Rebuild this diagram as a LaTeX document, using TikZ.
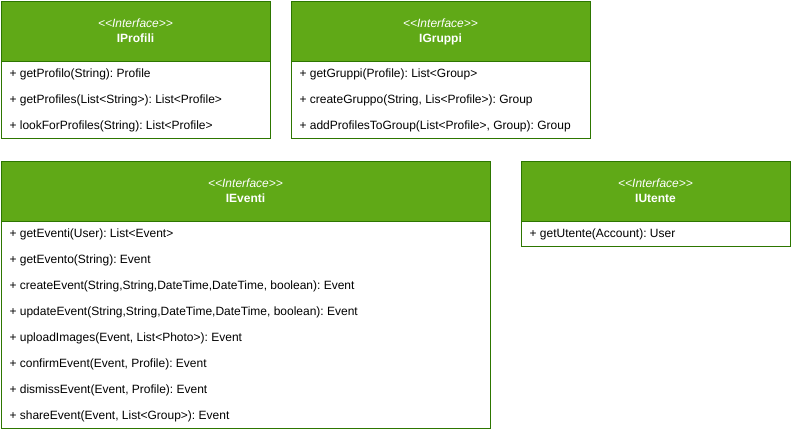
\documentclass[tikz,border=0pt]{standalone}
\usepackage{fontspec}
\setmainfont{Liberation Sans}
\definecolor{hdr}{HTML}{60A917}
\definecolor{edge}{HTML}{2D7600}
\newcommand{\stereo}{\textit{<\kern0pt<Interface>\kern0pt>}}
\frenchspacing
\begin{document}
\begin{tikzpicture}[x=0.75pt,y=-0.75pt,
  hdrbox/.style={fill=hdr,draw=edge,line width=0.75pt},
  bodybox/.style={fill=white,draw=edge,line width=0.75pt},
  sttxt/.style={text=white,font=\fontsize{9}{10.8}\selectfont,inner sep=0pt,anchor=base},
  nametxt/.style={text=white,font=\fontsize{9}{10.8}\selectfont\bfseries,inner sep=0pt,anchor=base},
  item/.style={text=black,font=\fontsize{9}{10.8}\selectfont,inner sep=0pt,anchor=base west}]
\useasboundingbox (0,0) rectangle (791,432);

% IProfili
\draw[bodybox] (1,61) rectangle (270,138);
\draw[hdrbox] (1,1) rectangle (270,61);
\node[sttxt] (ps) at (135.5,27) {\stereo};
\node[nametxt] (pn) at (135.5,42) {IProfili};
\node[item] (p1) at (9.3,77.5) {+ getProfilo(String): Profile};
\node[item] (p2) at (9.3,103.5) {+ getProfiles(List<String>): List<Profile>};
\node[item] (p3) at (9.3,129.5) {+ lookForProfiles(String): List<Profile>};

% IGruppi
\draw[bodybox] (291,61) rectangle (590,138);
\draw[hdrbox] (291,1) rectangle (590,61);
\node[sttxt] (gs) at (440.5,27) {\stereo};
\node[nametxt] (gn) at (440.5,42) {IGruppi};
\node[item] (g1) at (299.3,77.5) {+ getGruppi(Profile): List<Group>};
\node[item] (g2) at (299.3,103.5) {+ createGruppo(String, Lis<Profile>): Group};
\node[item] (g3) at (299.3,129.5) {+ addProfilesToGroup(List<Profile>, Group): Group};

% IEventi
\draw[bodybox] (1,221) rectangle (490,428);
\draw[hdrbox] (1,161) rectangle (490,221);
\node[sttxt] (es) at (245.5,187.3) {\stereo};
\node[nametxt] (en) at (245.5,202.3) {IEventi};
\node[item] (e1) at (9.3,237.5) {+ getEventi(User): List<Event>};
\node[item] (e2) at (9.3,263.5) {+ getEvento(String): Event};
\node[item] (e3) at (9.3,289.5) {+ createEvent(String,String,DateTime,DateTime, boolean): Event};
\node[item] (e4) at (9.3,315.5) {+ updateEvent(String,String,DateTime,DateTime, boolean): Event};
\node[item] (e5) at (9.3,341.5) {+ uploadImages(Event, List<Photo>): Event};
\node[item] (e6) at (9.3,367.5) {+ confirmEvent(Event, Profile): Event};
\node[item] (e7) at (9.3,393.5) {+ dismissEvent(Event, Profile): Event};
\node[item] (e8) at (9.3,419.5) {+ shareEvent(Event, List<Group>): Event};

% IUtente
\draw[bodybox] (521,221) rectangle (790,246);
\draw[hdrbox] (521,161) rectangle (790,221);
\node[sttxt] (us) at (655.5,187.3) {\stereo};
\node[nametxt] (un) at (655.5,202.3) {IUtente};
\node[item] (u1) at (529.3,237.5) {+ getUtente(Account): User};
\end{tikzpicture}
\end{document}
